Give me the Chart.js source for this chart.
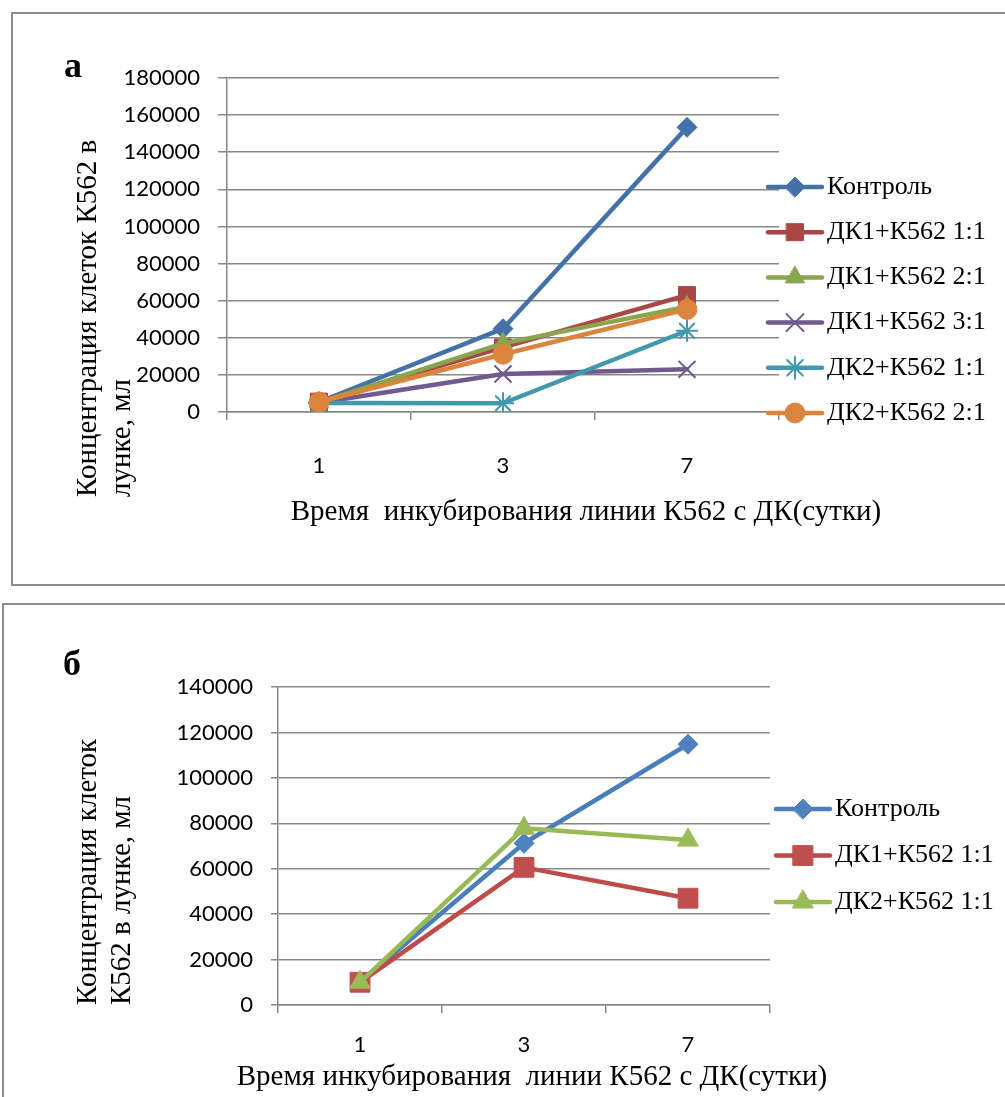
<!DOCTYPE html>
<html lang="ru">
<head>
<meta charset="utf-8">
<title>Концентрация клеток К562</title>
<script src="https://cdn.jsdelivr.net/npm/chart.js@4.4.1/dist/chart.umd.min.js"></script>
<style>
  html, body { margin: 0; padding: 0; background: #fff; }
  body { width: 1005px; height: 1097px; position: relative; overflow: hidden; }
  .frame { position: absolute; border: 2px solid #8c8c8c; box-sizing: border-box; }
  #frameA { left: 11px; top: 12px; width: 1010px; height: 574px; }
  #frameB { left: 2px; top: 603px; width: 1020px; height: 520px; }
  canvas { position: absolute; left: 0; }
  #chartA { top: 0; }
  #chartB { top: 600px; }
</style>
</head>
<body>
<div class="frame" id="frameA"></div>
<div class="frame" id="frameB"></div>
<canvas id="chartA" width="1005" height="595"></canvas>
<canvas id="chartB" width="1005" height="497"></canvas>
<script>
// days of incubation
const days = ["1", "3", "7"];

// panel а
const namesA = ["Контроль", "ДК1+К562 1:1", "ДК1+К562 2:1", "ДК1+К562 3:1", "ДК2+К562 1:1", "ДК2+К562 2:1"];
const controlA = [5400, 44900, 153400];
const dk1r11A = [5600, 34800, 63000];
const dk1r21A = [5200, 37000, 56800];
const dk1r31A = [5000, 20500, 23000];
const dk2r11A = [4800, 4700, 43800];
const dk2r21A = [5400, 31100, 55300];
const yMaxA = 180000;
const yStepA = 20000;

// panel б
const namesB = ["Контроль", "ДК1+К562 1:1", "ДК2+К562 1:1"];
const controlB = [10000, 71200, 114800];
const dk1r11B = [10000, 60600, 47000];
const dk2r11B = [10000, 77800, 72600];
const yMaxB = 140000;
const yStepB = 20000;

const xTitleA = "Время  инкубирования линии К562 с ДК(сутки)";
const xTitleB = "Время инкубирования  линии К562 с ДК(сутки)";
const yTitleA = ["Концентрация клеток К562 в", "лунке, мл"];
const yTitleB = ["Концентрация клеток", "К562 в лунке, мл"];

// marker looks
const looksA = [
  { line: "#4472a8", fill: "#4472a8", style: "rectRot", r: 10, bw: 1 },
  { line: "#aa4643", fill: "#aa4643", style: "rect", r: 12, bw: 1 },
  { line: "#89a54e", fill: "#89a54e", style: "triangle", r: 11, bw: 1 },
  { line: "#71588f", fill: "#71588f", style: "crossRot", r: 12, bw: 2 },
  { line: "#4198af", fill: "#4198af", style: "star", r: 11, bw: 2 },
  { line: "#db843d", fill: "#db843d", style: "circle", r: 10, bw: 1 }
];
const looksB = [
  { line: "#4a7ebb", fill: "#4f81bd", style: "rectRot", r: 10, bw: 1 },
  { line: "#be4b48", fill: "#c0504d", style: "rect", r: 14, bw: 1 },
  { line: "#98b954", fill: "#9bbb59", style: "triangle", r: 12, bw: 1 }
];

const GRID = "#878787";
const SERIF = "'Liberation Serif', 'Times New Roman', serif";
const SANS = "Lato, 'Open Sans', sans-serif";

// axis titles, panel letter and a line+marker legend
const figureText = {
  id: "figureText",
  afterDraw(chart, args, o) {
    const ctx = chart.ctx;
    ctx.save();
    ctx.fillStyle = "#000";
    ctx.font = "bold 36px " + SERIF;
    ctx.textAlign = "left";
    ctx.textBaseline = "alphabetic";
    ctx.fillText(o.letter, o.letterX, o.letterY);

    ctx.font = o.titleSize + "px " + SERIF;
    ctx.textAlign = "center";
    ctx.textBaseline = "middle";
    ctx.fillText(o.xTitle, o.xTitleX, o.xTitleY);

    ctx.save();
    ctx.translate(o.yTitleX, o.yTitleBottom);
    ctx.rotate(-Math.PI / 2);
    ctx.textAlign = "left";
    o.yTitle.forEach((line, i) => ctx.fillText(line, 0, i * o.yTitleGap));
    ctx.restore();

    ctx.font = o.legendSize + "px " + SERIF;
    ctx.textAlign = "left";
    chart.data.datasets.forEach((ds, i) => {
      const y = o.legendY + i * o.legendGap;
      const x0 = o.legendX, x1 = o.legendX + o.legendLen;
      ctx.strokeStyle = ds.borderColor;
      ctx.lineWidth = ds.borderWidth;
      ctx.lineCap = "round";
      ctx.beginPath();
      ctx.moveTo(x0, y);
      ctx.lineTo(x1, y);
      ctx.stroke();
      ctx.fillStyle = ds.pointBackgroundColor;
      ctx.strokeStyle = ds.pointBorderColor;
      ctx.lineWidth = ds.pointBorderWidth;
      Chart.helpers.drawPoint(ctx, {
        pointStyle: ds.pointStyle, radius: ds.pointRadius, rotation: 0, borderWidth: ds.pointBorderWidth
      }, (x0 + x1) / 2, y);
      ctx.fillStyle = "#000";
      ctx.fillText(ds.label, x1 + 5, y);
    });
    ctx.restore();
  }
};

function buildSets(names, series, looks) {
  return series.map((values, i) => ({
    label: names[i],
    data: values,
    borderColor: looks[i].line,
    borderWidth: 4.5,
    borderJoinStyle: "round",
    borderCapStyle: "round",
    pointStyle: looks[i].style,
    pointRadius: looks[i].r,
    pointBackgroundColor: looks[i].fill,
    pointBorderColor: looks[i].fill,
    pointBorderWidth: looks[i].bw,
    tension: 0,
    order: series.length - i
  }));
}

function makeChart(id, sets, yMax, yStep, box, text) {
  return new Chart(document.getElementById(id), {
    type: "line",
    data: { labels: days, datasets: sets },
    options: {
      responsive: false,
      animation: false,
      events: [],
      layout: { padding: { top: box.top, right: box.right, left: 0, bottom: 0 } },
      plugins: { legend: { display: false }, tooltip: { enabled: false }, figureText: text },
      scales: {
        x: {
          offset: true,
          ticks: { color: "#000", font: { family: SANS, size: 22 }, padding: box.xPad, maxRotation: 0 },
          grid: { offset: true, drawOnChartArea: false, color: GRID, lineWidth: 1.5, tickLength: 8 },
          border: { color: GRID, width: 1.5 },
          afterFit(scale) { scale.height = box.xHeight; }
        },
        y: {
          min: 0,
          max: yMax,
          ticks: { stepSize: yStep, color: "#000", font: { family: SANS, size: 22 }, padding: 18,
                   callback: v => String(v) },
          grid: { color: GRID, lineWidth: 1.5, tickLength: box.yTick },
          border: { color: GRID, width: 1.5 },
          afterFit(scale) { scale.width = box.left; }
        }
      }
    },
    plugins: [figureText]
  });
}

makeChart("chartA",
  buildSets(namesA, [controlA, dk1r11A, dk1r21A, dk1r31A, dk2r11A, dk2r21A], looksA),
  yMaxA, yStepA,
  { top: 78, right: 226, left: 227, xHeight: 183, xPad: 33, yTick: 9 },
  { letter: "а", letterX: 64, letterY: 77,
    titleSize: 29, xTitle: xTitleA, xTitleX: 586, xTitleY: 512,
    yTitle: yTitleA, yTitleX: 88, yTitleBottom: 497, yTitleGap: 34,
    legendSize: 26, legendX: 768, legendLen: 54, legendY: 187, legendGap: 45.2 });

makeChart("chartB",
  buildSets(namesB, [controlB, dk1r11B, dk2r11B], looksB),
  yMaxB, yStepB,
  { top: 87, right: 235, left: 278, xHeight: 92, xPad: 19, yTick: 7 },
  { letter: "б", letterX: 63, letterY: 75,
    titleSize: 29, xTitle: xTitleB, xTitleX: 532, xTitleY: 477,
    yTitle: yTitleB, yTitleX: 88, yTitleBottom: 405, yTitleGap: 34,
    legendSize: 26, legendX: 776, legendLen: 54, legendY: 209, legendGap: 46.5 });
</script>
</body>
</html>
